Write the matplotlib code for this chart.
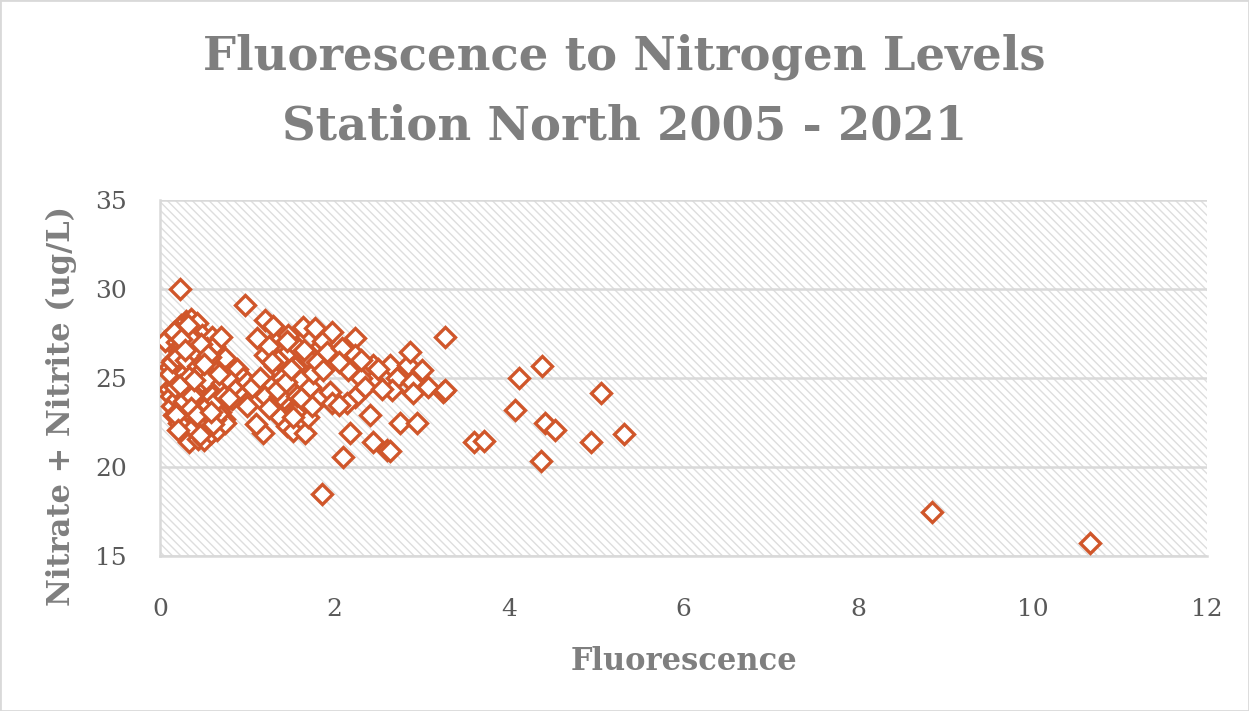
import numpy as np
import matplotlib

matplotlib.use("Agg")
import matplotlib.pyplot as plt
from matplotlib.patches import Rectangle

# ── data (fluorescence, nitrate + nitrite) ─────────────────────────────────
fluor_a = [0.06, 0.10, 0.11, 0.13, 0.14, 0.15, 0.16, 0.18, 0.19, 0.20, 0.21, 0.22,
           0.23, 0.24, 0.25, 0.26, 0.27, 0.28, 0.29, 0.30, 0.31, 0.32, 0.33, 0.34,
           0.35, 0.36, 0.37, 0.38, 0.39, 0.40, 0.41, 0.42, 0.43, 0.44, 0.45, 0.46,
           0.47, 0.48, 0.49, 0.50, 0.51, 0.52, 0.53, 0.55, 0.56, 0.57, 0.58, 0.59,
           0.60, 0.61, 0.62, 0.64, 0.65, 0.66, 0.68, 0.70, 0.72, 0.73, 0.75, 0.75,
           0.75, 0.78, 0.80, 0.82, 0.85, 0.88, 0.90, 0.95, 0.97, 1.00, 1.00,
           0.12, 0.17, 0.20, 0.22, 0.26, 0.29, 0.31, 0.33, 0.36, 0.38, 0.40, 0.43,
           0.45, 0.48, 0.52, 0.54, 0.58, 0.62, 0.63, 0.67, 0.69, 0.70, 0.25, 0.35,
           0.18, 0.28, 0.46, 0.57, 0.66, 0.83,
           0.14, 0.19, 0.23, 0.27, 0.30, 0.34, 0.37, 0.41, 0.44, 0.49, 0.53, 0.56,
           0.60, 0.64, 0.71, 0.77, 0.16, 0.24, 0.32, 0.39, 0.47, 0.55, 0.61, 0.68,
           0.21, 0.29, 0.36, 0.42, 0.50, 0.58, 0.73, 0.79]
nitro_a = [27.1, 24.4, 25.6, 24.0, 23.4, 26.0, 22.9, 27.4, 25.0, 23.8, 24.8, 26.5,
           30.0, 28.0, 23.2, 25.3, 22.8, 27.8, 24.1, 28.2, 25.8, 23.5, 21.4, 26.8,
           28.3, 24.6, 22.2, 26.7, 27.9, 23.0, 25.5, 28.1, 24.2, 21.6, 26.3, 23.9,
           25.0, 27.4, 23.0, 21.5, 24.7, 26.0, 22.4, 25.4, 23.6, 27.0, 24.4, 21.9,
           27.3, 25.9, 23.3, 24.9, 22.1, 26.4, 23.9, 25.6, 24.2, 22.7, 26.1, 25.05,
           22.5, 24.6, 25.3, 23.8, 24.9, 25.5, 24.3, 25.0, 29.1, 23.4, 24.8,
           25.2, 24.5, 27.0, 22.5, 26.1, 25.3, 23.2, 27.5, 25.9, 22.2, 24.1, 26.7,
           22.7, 24.8, 23.3, 26.7, 25.6, 26.8, 22.7, 24.4, 23.1, 27.3, 26.9, 27.2,
           22.9, 23.6, 21.8, 26.2, 23.0, 24.5,
           25.9, 26.2, 24.6, 23.7, 26.0, 25.1, 24.0, 26.4, 25.7, 25.5, 24.9, 22.9,
           24.0, 23.7, 24.7, 25.0, 27.6, 27.2, 28.0, 24.9, 26.9, 26.3, 22.4, 25.2,
           22.1, 26.6, 23.3, 22.9, 25.8, 23.1, 24.0, 23.9]

fluor_b = [1.11, 1.20, 1.30, 1.47, 1.20, 1.32, 1.20, 1.18, 1.38, 1.45, 1.05, 1.15,
           1.25, 1.30, 1.35, 1.40, 1.42, 1.48, 1.50, 1.52, 1.55, 1.58, 1.60, 1.62,
           1.64, 1.66, 1.68, 1.70, 1.72, 1.75, 1.78, 1.80, 1.82, 1.85, 1.87, 1.87,
           1.91, 1.95, 1.97, 1.97, 1.86, 1.25, 1.45, 1.55, 1.65, 1.10, 1.38,
           1.34, 1.44, 1.57, 1.62, 1.50, 1.28, 1.74, 1.53]
nitro_b = [27.25, 28.26, 27.9, 27.4, 26.3, 25.7, 24.0, 21.9, 22.8, 22.3, 24.5, 25.0,
           23.3, 24.6, 26.0, 25.0, 23.8, 26.5, 24.3, 22.0, 25.6, 26.7, 23.5, 24.9,
           27.87, 21.9, 26.2, 22.8, 24.5, 25.3, 27.8, 25.9, 23.9, 26.8, 25.45, 27.1,
           26.46, 24.2, 27.6, 23.6, 18.5, 26.8, 27.1, 23.1, 26.6, 22.4, 24.0,
           24.3, 24.8, 24.0, 23.9, 25.5, 25.9, 23.4, 22.8]

fluor_c = [2.09, 2.23, 2.23, 2.15, 2.44, 2.64, 2.84, 2.87, 3.00, 2.72, 2.89, 3.07,
           3.24, 2.44, 2.66, 2.90, 2.23, 2.14, 2.41, 2.75, 2.95, 2.18, 2.44, 2.60,
           2.64, 2.10, 3.27, 3.27, 2.05, 2.30, 2.35, 2.55, 2.50, 2.05, 2.30]
nitro_c = [26.7, 27.25, 26.3, 25.45, 25.73, 25.73, 25.73, 26.46, 25.45, 25.0, 24.8, 24.5,
           24.2, 24.9, 24.33, 24.16, 23.93, 23.6, 22.9, 22.5, 22.5, 21.9, 21.4, 20.95,
           20.9, 20.56, 27.3, 24.3, 25.9, 25.0, 24.5, 24.4, 25.5, 23.5, 26.0]

fluor_d = [3.60, 3.71, 4.07, 4.11, 4.37, 4.38, 4.41, 4.53, 4.94, 5.05, 5.32, 8.85, 10.66]
nitro_d = [21.4, 21.46, 23.2, 25.0, 20.34, 25.67, 22.5, 22.1, 21.4, 24.15, 21.85, 17.5, 15.73]

fluor = np.array(fluor_a + fluor_b + fluor_c + fluor_d)
nitro = np.array(nitro_a + nitro_b + nitro_c + nitro_d)

x_ticks = [0, 2, 4, 6, 8, 10, 12]
y_ticks = [15, 20, 25, 30, 35]

TITLE_1 = "Fluorescence to Nitrogen Levels"
TITLE_2 = "Station North 2005 - 2021"
GRAY = "#7f7f7f"
TICK = "#595959"
GRID = "#d9d9d9"
ORANGE = "#d0562a"

plt.rcParams["font.family"] = ["DejaVu Serif"]

fig = plt.figure(figsize=(12.49, 7.11), dpi=100, facecolor="white")
ax = fig.add_axes([160 / 1249, 1 - 556 / 711, 1047 / 1249, 356 / 711])

# hatched plot area
ax.patch.set_facecolor("white")
ax.add_patch(Rectangle((0, 0), 1, 1, transform=ax.transAxes, facecolor="none",
                       edgecolor="#dedede", hatch="\\\\\\\\", lw=0, zorder=0))

ax.plot(fluor, nitro, linestyle="none", marker="D", markersize=9.8,
        markerfacecolor="white", markeredgecolor=ORANGE, markeredgewidth=2.4,
        zorder=3)

ax.set_xlim(0, 12)
ax.set_ylim(15, 35)
ax.set_xticks(x_ticks)
ax.set_yticks(y_ticks)
ax.grid(axis="y", color=GRID, linewidth=1.8, zorder=1)
ax.set_axisbelow(True)
ax.tick_params(length=0, labelsize=18, colors=TICK)
ax.tick_params(axis="x", pad=30)
ax.tick_params(axis="y", pad=24)
for side in ("top", "right"):
    ax.spines[side].set_visible(False)
for side in ("left", "bottom"):
    ax.spines[side].set_color(GRID)
    ax.spines[side].set_linewidth(1.8)

ax.set_xlabel("Fluorescence", fontsize=22, fontweight="bold", color=GRAY, labelpad=18)
ax.set_ylabel("Nitrate + Nitrite (ug/L)", fontsize=22, fontweight="bold", color=GRAY)
ax.yaxis.set_label_coords(-0.079, 0.42)

fig.text(0.5, 1 - 57 / 711, TITLE_1, ha="center", va="center", fontsize=33.5,
         fontweight="bold", color=GRAY)
fig.text(0.5, 1 - 127 / 711, TITLE_2, ha="center", va="center", fontsize=33.5,
         fontweight="bold", color=GRAY)

fig.patches.append(Rectangle((0, 0), 1, 1, transform=fig.transFigure, facecolor="none",
                             edgecolor=GRID, lw=2))

fig.savefig("out.png", dpi=100, facecolor="white")
